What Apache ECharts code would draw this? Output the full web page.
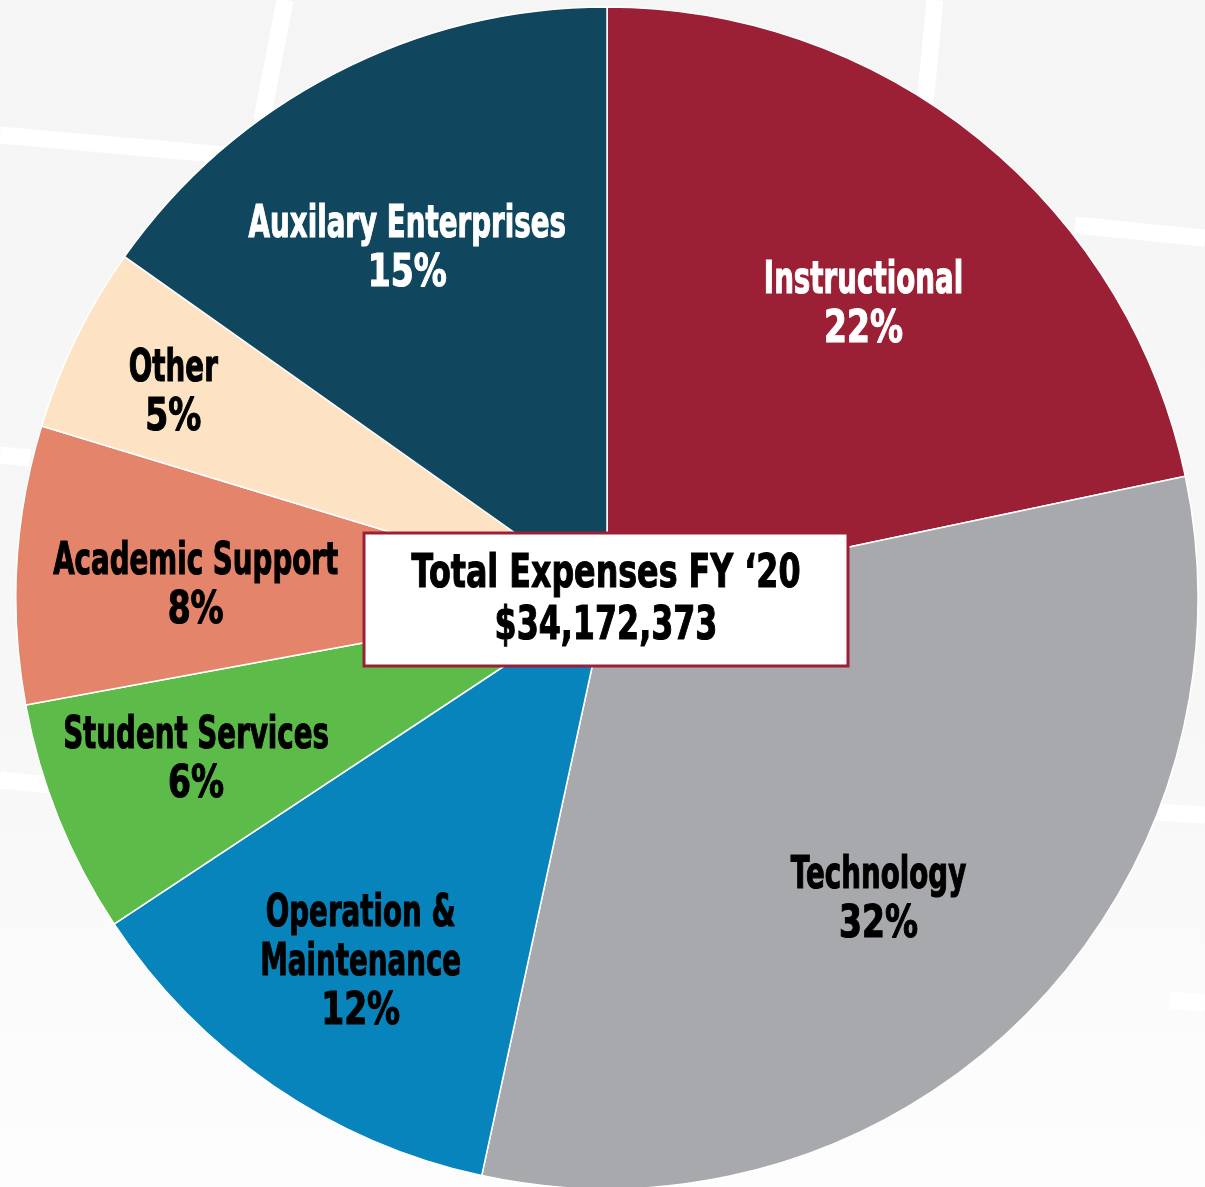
<!DOCTYPE html>
<html>
<head>
<meta charset="utf-8">
<script src="https://cdn.jsdelivr.net/npm/echarts@6/dist/echarts.min.js"></script>
<style>
  html, body { margin: 0; padding: 0; }
  body { background: linear-gradient(#f5f5f5, #f7f7f7 60%, #fdfdfd); }
  #chart { width: 1205px; height: 1187px; }
</style>
</head>
<body>
<div id="chart"></div>
<script>
const categories = ['Instructional', 'Technology', 'Operation &\nMaintenance', 'Student Services', 'Academic Support', 'Other', 'Auxilary Enterprises']
const shares = [21.7, 31.7, 12.3, 6.4, 7.6, 5.1, 15.2]
const pctLabels = ['22%', '32%', '12%', '6%', '8%', '5%', '15%']
const colors = ['#9b2035', '#a8a9ad', '#0784bb', '#5dbb4a', '#e3846b', '#fde3c3', '#11475e']
const textColors = ['#fff', '#000', '#000', '#000', '#000', '#000', '#fff']
const totalTitle = 'Total Expenses FY \u201820'
const totalValue = '$34,172,373'

// label nudges from the slice mid point, so they sit like the original
const labelOffsets = [[-5, 30], [-21, 9], [-12, 23], [-26, 8], [3, 13], [-61, -21], [-9, 21]]
const labelRadius = 415

const font = '"DejaVu Sans", sans-serif'
const center = [607, 598]
const R = 591

const chart = echarts.init(document.getElementById('chart'))

const bgLines = [
  [[0, 135], [225, 155]], [[285, 0], [262, 120]],
  [[935, 0], [925, 105]], [[1075, 225], [1205, 238]],
  [[0, 455], [30, 458]], [[0, 780], [60, 786]],
  [[1120, 810], [1205, 815]], [[1170, 1000], [1205, 1003]]
]

// heavy condensed look: narrow the glyphs and thicken them with a stroke
function heavyText(x, y, text, color, size, sx, z) {
  return {
    type: 'text', z: z, silent: true, x: x, y: y, scaleX: sx,
    style: {
      text: text, font: 'bold ' + size + 'px ' + font, fill: color,
      stroke: color, lineWidth: 1.2,
      align: 'center', verticalAlign: 'middle'
    }
  }
}

const baseGraphic = [
  ...bgLines.map(l => ({
    type: 'line', z: -10, silent: true,
    shape: { x1: l[0][0], y1: l[0][1], x2: l[1][0], y2: l[1][1] },
    style: { stroke: '#ffffff', lineWidth: 17 }
  })),
  {
    type: 'rect', z: 100,
    shape: { x: 364, y: 533, width: 484, height: 133 },
    style: { fill: '#fff', stroke: '#9b2035', lineWidth: 3 }
  },
  heavyText(606, 575, totalTitle, '#000', 46, 0.69, 101),
  heavyText(606, 627, totalValue, '#000', 46, 0.69, 101)
]

chart.setOption({
  backgroundColor: 'transparent',
  animation: false,
  graphic: baseGraphic,
  series: [
    {
      type: 'pie',
      center: center,
      radius: R,
      startAngle: 90,
      silent: true,
      label: { show: false },
      labelLine: { show: false },
      itemStyle: { borderColor: '#fff', borderWidth: 1.5 },
      data: categories.map((n, i) => ({ name: n, value: shares[i], itemStyle: { color: colors[i] } }))
    }
  ]
})

// labels: placed at the slice mid angle taken from the pie layout
const pieData = chart.getModel().getSeriesByIndex(0).getData()
const labelGraphic = []
categories.forEach((name, i) => {
  const lay = pieData.getItemLayout(i)
  const mid = (lay.startAngle + lay.endAngle) / 2
  const cx = lay.cx + labelRadius * Math.cos(mid) + labelOffsets[i][0]
  const cy = lay.cy + labelRadius * Math.sin(mid) + labelOffsets[i][1]
  const lines = name.split('\n')
  const n = lines.length + 1
  lines.concat(pctLabels[i]).forEach((t, k) => {
    const isPct = k === lines.length
    labelGraphic.push(heavyText(cx, cy + (k - (n - 1) / 2) * 49, t, textColors[i], 44, isPct ? 0.75 : 0.63, 50))
  })
})

chart.setOption({ graphic: baseGraphic.concat(labelGraphic) })
</script>
</body>
</html>
